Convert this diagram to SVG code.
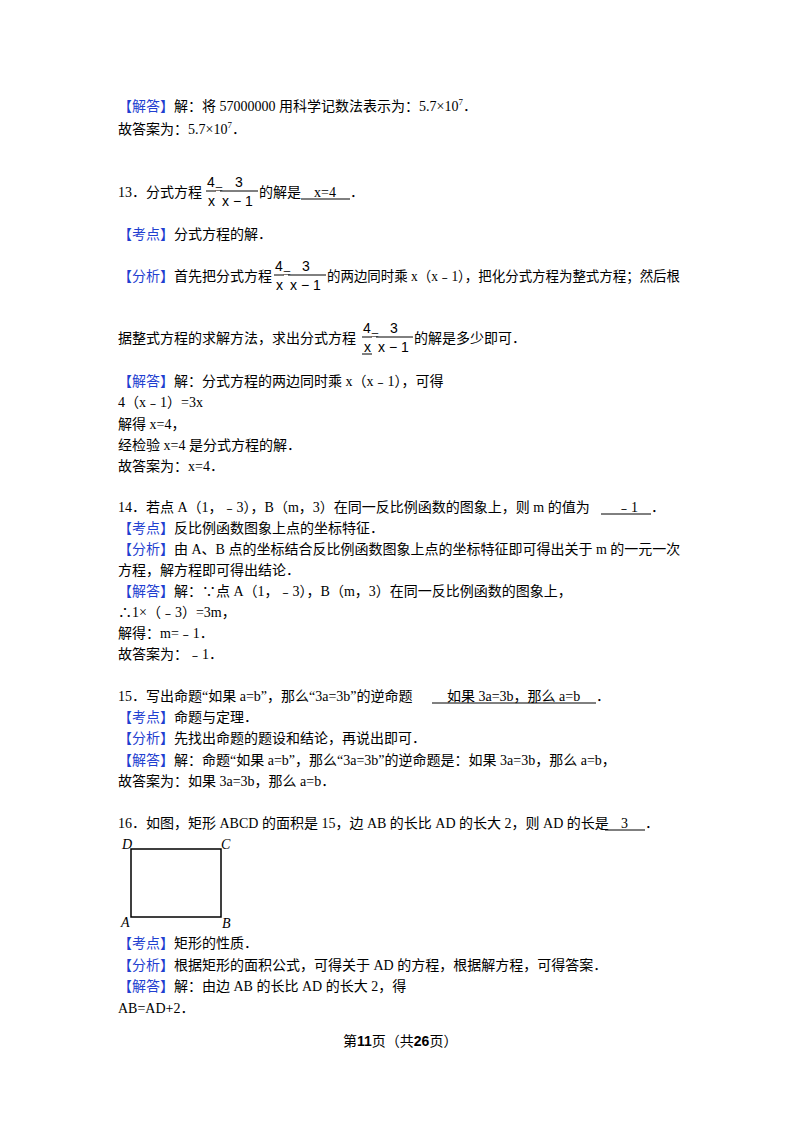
<svg xmlns="http://www.w3.org/2000/svg" width="800" height="1132" viewBox="0 0 800 1132">
<style>
text{font-family:"Liberation Serif","Noto Sans CJK SC",serif;font-size:14px;fill:#000}
.b{fill:#1f3fd0}
.f{font-family:"Liberation Sans",sans-serif;font-size:14px}
.u{stroke:#000;stroke-width:1}
</style>
<rect width="800" height="1132" fill="#fff"/>
<text x="118" y="111"><tspan class="b">【解答】</tspan>解：将 57000000 用科学记数法表示为：5.7×10<tspan font-size="9" dy="-6">7</tspan><tspan dy="6">．</tspan></text>
<text x="118" y="134">故答案为：5.7×10<tspan font-size="9" dy="-6">7</tspan><tspan dy="6">．</tspan></text>

<text x="118" y="197">13．分式方程</text>
<g class="u"><line x1="206" y1="191" x2="216" y2="191"/><line x1="220" y1="191" x2="258" y2="191"/></g>
<text class="f" x="207" y="187">4</text><text class="f" x="208" y="206" font-size="12">x</text><text x="215" y="194" font-size="10">=</text>
<text class="f" x="235" y="187">3</text><text class="f" x="222" y="206" font-size="12">x − 1</text>
<text x="259" y="197">的解是</text><text x="314" y="197">x=4</text><line class="u" x1="301" y1="199" x2="350" y2="199"/><text x="350" y="197">．</text>

<text x="118" y="239"><tspan class="b">【考点】</tspan>分式方程的解．</text>

<text x="118" y="281"><tspan class="b">【分析】</tspan>首先把分式方程</text>
<g class="u"><line x1="274" y1="275" x2="284" y2="275"/><line x1="288" y1="275" x2="326" y2="275"/></g>
<text class="f" x="275" y="271">4</text><text class="f" x="276" y="290" font-size="12">x</text><text x="283" y="278" font-size="10">=</text>
<text class="f" x="302" y="271">3</text><text class="f" x="290" y="290" font-size="12">x − 1</text>
<text x="327" y="281" textLength="353" lengthAdjust="spacingAndGlyphs">的两边同时乘 x（x﹣1），把化分式方程为整式方程；然后根</text>

<text x="118" y="343">据整式方程的求解方法，求出分式方程</text>
<g class="u"><line x1="362" y1="337" x2="372" y2="337"/><line x1="376" y1="337" x2="413" y2="337"/><line x1="362" y1="354" x2="372" y2="354"/></g>
<text class="f" x="363" y="333">4</text><text class="f" x="364" y="352" font-size="12">x</text><text x="371" y="340" font-size="10">=</text>
<text class="f" x="390" y="333">3</text><text class="f" x="378" y="352" font-size="12">x − 1</text>
<text x="414" y="343">的解是多少即可．</text>

<text x="118" y="386"><tspan class="b">【解答】</tspan>解：分式方程的两边同时乘 x（x﹣1），可得</text>
<text x="118" y="407">4（x﹣1）=3x</text>
<text x="118" y="429">解得 x=4，</text>
<text x="118" y="450">经检验 x=4 是分式方程的解．</text>
<text x="118" y="471">故答案为：x=4．</text>

<text x="118" y="512">14．若点 A（1，﹣3），B（m，3）在同一反比例函数的图象上，则 m 的值为</text><text x="617" y="512">﹣1</text><line class="u" x1="601" y1="514" x2="651" y2="514"/><text x="651" y="512">．</text>
<text x="118" y="533"><tspan class="b">【考点】</tspan>反比例函数图象上点的坐标特征．</text>
<text x="118" y="554"><tspan class="b">【分析】</tspan>由 A、B 点的坐标结合反比例函数图象上点的坐标特征即可得出关于 m 的一元一次</text>
<text x="118" y="575">方程，解方程即可得出结论．</text>
<text x="118" y="596"><tspan class="b">【解答】</tspan>解：∵点 A（1，﹣3），B（m，3）在同一反比例函数的图象上，</text>
<text x="118" y="617">∴1×（﹣3）=3m，</text>
<text x="118" y="638">解得：m=﹣1．</text>
<text x="118" y="659">故答案为：﹣1．</text>

<text x="118" y="701">15．写出命题“如果 a=b”，那么“3a=3b”的逆命题</text><text x="447" y="701">如果 3a=3b，那么 a=b</text><line class="u" x1="432" y1="703" x2="596" y2="703"/><text x="596" y="701">．</text>
<text x="118" y="722"><tspan class="b">【考点】</tspan>命题与定理．</text>
<text x="118" y="743"><tspan class="b">【分析】</tspan>先找出命题的题设和结论，再说出即可．</text>
<text x="118" y="765"><tspan class="b">【解答】</tspan>解：命题“如果 a=b”，那么“3a=3b”的逆命题是：如果 3a=3b，那么 a=b，</text>
<text x="118" y="786">故答案为：如果 3a=3b，那么 a=b．</text>

<text x="118" y="828">16．如图，矩形 ABCD 的面积是 15，边 AB 的长比 AD 的长大 2，则 AD 的长是</text><text x="621" y="828">3</text><line class="u" x1="605" y1="830" x2="645" y2="830"/><text x="645" y="828">．</text>
<g id="rect">
<rect x="131" y="849" width="90" height="68" fill="none" stroke="#000" stroke-width="1.5"/>
<text x="122" y="849" font-style="italic" font-size="13">D</text>
<text x="221" y="849" font-style="italic" font-size="13">C</text>
<text x="121" y="927" font-style="italic" font-size="13">A</text>
<text x="222" y="928" font-style="italic" font-size="13">B</text>
</g>
<text x="118" y="948"><tspan class="b">【考点】</tspan>矩形的性质．</text>
<text x="118" y="970"><tspan class="b">【分析】</tspan>根据矩形的面积公式，可得关于 AD 的方程，根据解方程，可得答案．</text>
<text x="118" y="991"><tspan class="b">【解答】</tspan>解：由边 AB 的长比 AD 的长大 2，得</text>
<text x="118" y="1013">AB=AD+2．</text>
<text x="343" y="1046" font-size="13">第<tspan font-weight="bold" font-family="Liberation Sans">11</tspan>页（共<tspan font-weight="bold" font-family="Liberation Sans">26</tspan>页）</text>
</svg>
